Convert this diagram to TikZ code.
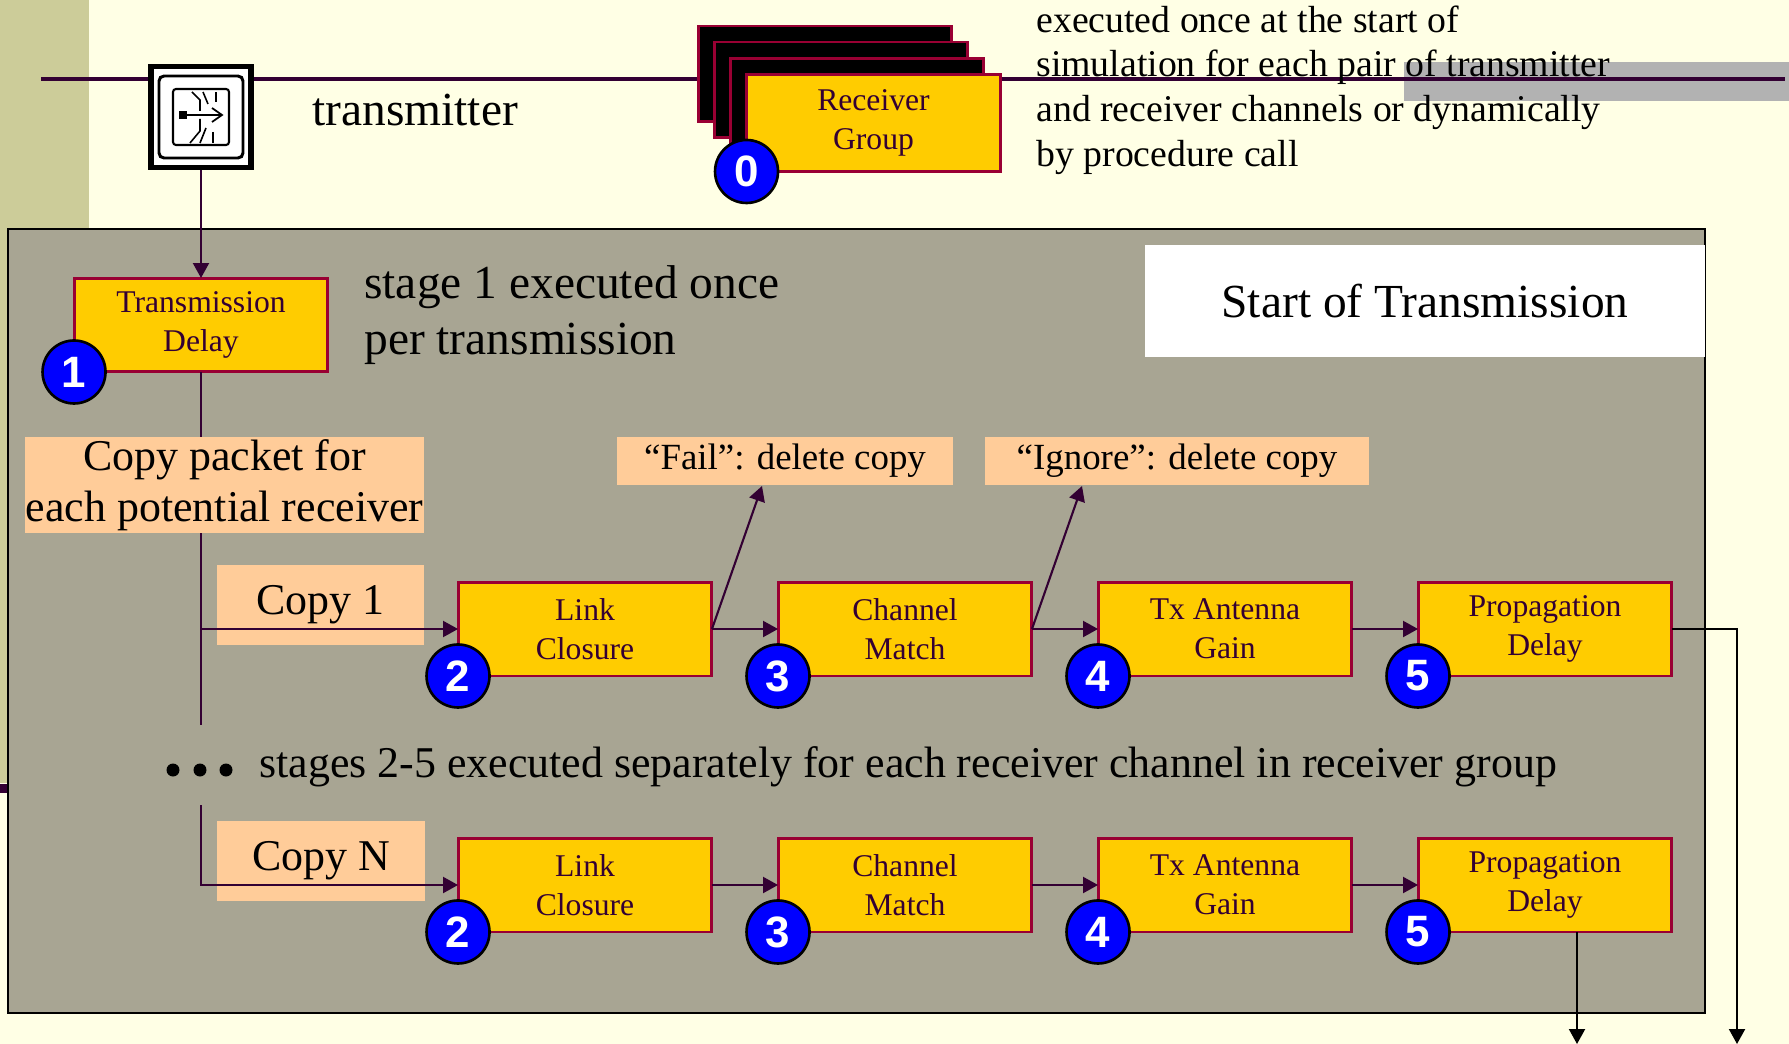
\documentclass[tikz,border=0pt]{standalone}
\usepackage{fontspec}
\setmainfont{Liberation Serif}
\newfontfamily\badgefont{Liberation Sans}
\usetikzlibrary{positioning, arrows.meta}

\definecolor{paper}{HTML}{FFFFE5}
\definecolor{band}{HTML}{CCCC99}
\definecolor{panel}{HTML}{A8A593}
\definecolor{peach}{HTML}{FFCC99}
\definecolor{amber}{HTML}{FFCC00}
\definecolor{crimson}{HTML}{990033}
\definecolor{plum}{HTML}{330033}
\definecolor{smoke}{HTML}{B2B2B2}

\tikzset{
	stagebox/.style={draw=crimson, fill=amber, line width=1.7pt, minimum width=5.08cm, minimum height=1.88cm, outer sep=0pt, align=center, text=plum, font=\fontsize{18}{22}\selectfont},
	stackbox/.style={draw=crimson, fill=black, line width=1.7pt, minimum width=5.08cm, minimum height=1.92cm, outer sep=0pt},
	badge/.style={circle, draw=black, fill=blue, line width=1.5pt, minimum size=1.26cm, inner sep=0pt, text=white, font=\badgefont\bfseries\fontsize{25}{25}\selectfont},
	peachbox/.style={fill=peach, inner sep=0pt, align=center, font=\fontsize{25}{29}\selectfont},
	caption/.style={inner sep=0pt, align=left, anchor=west, font=\fontsize{27}{32}\selectfont},
	wire/.style={draw=plum, line width=1.2pt},
	wirearrow/.style={wire, -{Triangle[length=0.3cm, width=0.32cm]}},
	exitarrow/.style={draw=black, line width=1.2pt, -{Triangle[length=0.3cm, width=0.32cm]}},
	dotmark/.style={circle, fill=black, minimum size=0.26cm, inner sep=0pt}
}

\begin{document}
\begin{tikzpicture}[x=0.02cm, y=-0.02cm]
	\useasboundingbox (0, 0) rectangle (1789, 1044);

	% Backdrop:
	\fill[paper] (0, 0) rectangle (1789, 1044);
	\fill[band] (0, 0) rectangle (89, 783);
	\fill[plum] (0, 784) rectangle (10, 793);
	\fill[smoke] (1404, 62) rectangle (1789, 101);

	% Top line:
	\coordinate (lineleft) at (41, 79);
	\coordinate (lineright) at (1785, 79);
	\draw[plum, line width=2.4pt] (lineleft) -- (lineright);

	% Panel:
	\node[draw=black, fill=panel, line width=1.4pt, minimum width=33.94cm, minimum height=15.68cm, outer sep=0pt] (panelbox) at (856.5, 621) {};
	\node[fill=white, minimum width=11.2cm, minimum height=2.24cm, inner sep=0pt, font=\fontsize{27}{32}\selectfont] (startlabel) at (1425, 301) {Start of Transmission};

	% Transmitter icon:
	\node[draw=black, fill=white, line width=3.4pt, minimum width=2cm, minimum height=2.02cm, outer sep=1.7pt] (icon) at (201, 117) {};
	\draw[black, line width=1.7pt, rounded corners=0.1cm] (159, 76) rectangle (243, 158);
	\draw[black, line width=1.2pt, rounded corners=0.06cm] (173, 89) rectangle (229, 145);
	\fill[black] (179, 111) rectangle (187, 119);
	\draw[black, line width=1pt] (187, 115) -- (221, 115);
	\draw[black, line width=1pt] (212, 108) -- (222, 115) -- (212, 122);
	\draw[black, line width=0.9pt] (200, 111) -- (200, 100) -- (192, 92);
	\draw[black, line width=0.9pt] (208, 104) -- (203, 92);
	\draw[black, line width=0.9pt] (216, 102) -- (216, 92);
	\draw[black, line width=0.9pt] (200, 119) -- (200, 131) -- (190, 143);
	\draw[black, line width=0.9pt] (206, 128) -- (200, 143);
	\draw[black, line width=0.9pt] (213, 132) -- (213, 143);

	% Receiver group:
	\node[stackbox] (stacka) at (825, 74) {};
	\node[stackbox] (stackb) at (841, 90) {};
	\node[stackbox] (stackc) at (857, 106) {};
	\node[stagebox, minimum height=1.94cm] (receiver) at (873.5, 123) {Receiver\\Group};
	\node[badge] (badgezero) at (receiver.south west) {0};

	% Instances:
	\node[stagebox] (delay) at (201, 325) {Transmission\\Delay};
	\coordinate (trunkend) at (201, 725);
	\coordinate (trunkstart) at (201, 805);
	\coordinate (trunkbranch) at (201, 629);
	\draw[wire] (delay) -- (trunkend);

	\node[peachbox, minimum width=7.98cm, minimum height=1.92cm] (copypacket) at (224.5, 485) {Copy packet for\\each potential receiver};
	\node[peachbox, minimum width=4.14cm, minimum height=1.6cm] (copyone) at (320.5, 605) {Copy 1};
	\node[peachbox, minimum width=4.16cm, minimum height=1.6cm] (copyn) at (321, 861) {Copy N};
	\node[peachbox, minimum width=6.72cm, minimum height=0.96cm, font=\fontsize{21}{25}\selectfont] (failnote) at (785, 461) {“Fail”: delete copy};
	\node[peachbox, minimum width=7.68cm, minimum height=0.96cm, font=\fontsize{21}{25}\selectfont] (ignorenote) at (1177, 461) {“Ignore”: delete copy};

	\node[stagebox] (linkone) at (585, 629) {Link\\Closure};
	\node[stagebox] (chanone) at (905, 629) {Channel\\Match};
	\node[stagebox] (gainone) at (1225, 629) {Tx Antenna\\Gain};
	\node[stagebox] (propone) at (1545, 629) {Propagation\\Delay};

	\node[stagebox] (linkn) at (585, 885) {Link\\Closure};
	\node[stagebox] (chann) at (905, 885) {Channel\\Match};
	\node[stagebox] (gainn) at (1225, 885) {Tx Antenna\\Gain};
	\node[stagebox] (propn) at (1545, 885) {Propagation\\Delay};

	% Lines:
	\coordinate (failtip) at (762, 486);
	\coordinate (ignoretip) at (1082, 486);
	\coordinate (exitone) at (1737, 1044);
	\coordinate (exitn) at (1577, 1044);
	\draw[wirearrow] (icon) -- (delay);
	\draw[wirearrow] (trunkbranch) -- (linkone);
	\draw[wirearrow] (linkone) -- (chanone);
	\draw[wirearrow] (chanone) -- (gainone);
	\draw[wirearrow] (gainone) -- (propone);
	\draw[wirearrow] (linkone.east) -- (failtip);
	\draw[wirearrow] (chanone.east) -- (ignoretip);
	\draw[wirearrow] (trunkstart) |- (linkn);
	\draw[wirearrow] (linkn) -- (chann);
	\draw[wirearrow] (chann) -- (gainn);
	\draw[wirearrow] (gainn) -- (propn);
	\draw[exitarrow] (propone.east) -| (exitone);
	\draw[exitarrow] (propn.south -| exitn) -- (exitn);

	% Nodes:
	\node[badge] (badgeone) at (delay.south west) {1};
	\node[badge] (badgetwoa) at (linkone.south west) {2};
	\node[badge] (badgethreea) at (chanone.south west) {3};
	\node[badge] (badgefoura) at (gainone.south west) {4};
	\node[badge] (badgefivea) at (propone.south west) {5};
	\node[badge] (badgetwob) at (linkn.south west) {2};
	\node[badge] (badgethreeb) at (chann.south west) {3};
	\node[badge] (badgefourb) at (gainn.south west) {4};
	\node[badge] (badgefiveb) at (propn.south west) {5};
	\node[dotmark] (dota) at (173, 770) {};
	\node[dotmark] (dotb) at (200, 770) {};
	\node[dotmark] (dotc) at (226, 770) {};

	% Labels:
	\node[caption] (transmitterlabel) at (312, 110) {transmitter};
	\node[caption, font=\fontsize{21.5}{25.5}\selectfont] (oncelabel) at (1036, 90) {executed once at the start of\\simulation for each pair of transmitter\\and receiver channels or dynamically\\by procedure call};
	\node[caption, font=\fontsize{27}{32}\selectfont] (stageone) at (364, 315) {stage 1 executed once\\per transmission};
	\node[caption, font=\fontsize{25}{29}\selectfont] (stagesrest) at (259, 767) {stages 2-5 executed separately for each receiver channel in receiver group};

\end{tikzpicture}
\end{document}
